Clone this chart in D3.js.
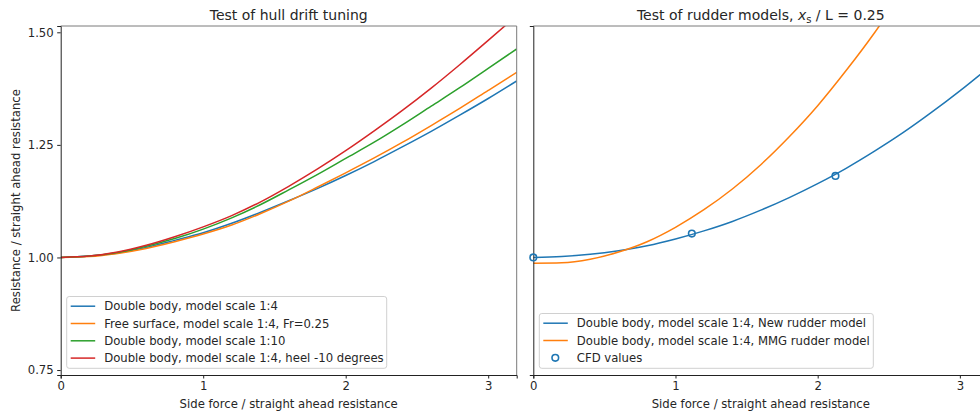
<!DOCTYPE html>
<html>
<head>
<meta charset="utf-8">
<script src="https://cdn.jsdelivr.net/npm/d3@7"></script>
<style>
  html, body { margin: 0; padding: 0; background: #fff; }
  svg { display: block; font-family: "DejaVu Sans", sans-serif; }
</style>
</head>
<body>
<svg id="chart" width="980" height="411"></svg>
<script>
// Side force / straight ahead resistance sample positions
const sideForce = [0, 0.2, 0.4, 0.6, 0.8, 1.0, 1.2, 1.4, 1.6, 1.8, 2.0, 2.2, 2.4, 2.6, 2.8, 3.0, 3.2];

// Hull drift tuning runs (resistance / straight ahead resistance)
const doubleBody14   = [1.000, 1.003, 1.010, 1.022, 1.038, 1.055, 1.076, 1.100, 1.126, 1.153, 1.182, 1.213, 1.246, 1.280, 1.316, 1.353, 1.392];
const freeSurface14  = [1.000, 1.002, 1.009, 1.020, 1.035, 1.052, 1.072, 1.097, 1.125, 1.156, 1.188, 1.221, 1.256, 1.293, 1.331, 1.371, 1.411];
const doubleBody110  = [1.000, 1.003, 1.011, 1.025, 1.042, 1.063, 1.088, 1.117, 1.150, 1.184, 1.220, 1.256, 1.295, 1.336, 1.377, 1.420, 1.463];
const doubleBodyHeel = [1.000, 1.003, 1.012, 1.027, 1.046, 1.068, 1.093, 1.123, 1.158, 1.196, 1.237, 1.281, 1.327, 1.376, 1.428, 1.482, 1.537];

// Rudder model runs
const newRudder = [1.000, 1.002, 1.007, 1.015, 1.026, 1.041, 1.059, 1.080, 1.105, 1.133, 1.164, 1.198, 1.236, 1.277, 1.322, 1.370, 1.421];
const mmgRudder = [0.987, 0.988, 0.996, 1.012, 1.035, 1.067, 1.106, 1.152, 1.206, 1.268, 1.337, 1.415, 1.499, 1.592, 1.690, 1.795, 1.905];

// CFD reference points
const cfdX = [0.0, 1.115, 2.125];
const cfdY = [1.000, 1.053, 1.181];

const xTicks = [0, 1, 2, 3];
const yTicks = [0.75, 1.00, 1.25, 1.50];

const leftSeries = [
  { label: "Double body, model scale 1:4", values: doubleBody14, color: "#1f77b4" },
  { label: "Free surface, model scale 1:4, Fr=0.25", values: freeSurface14, color: "#ff7f0e" },
  { label: "Double body, model scale 1:10", values: doubleBody110, color: "#2ca02c" },
  { label: "Double body, model scale 1:4, heel -10 degrees", values: doubleBodyHeel, color: "#d62728" }
];
const rightSeries = [
  { label: "Double body, model scale 1:4, New rudder model", values: newRudder, color: "#1f77b4" },
  { label: "Double body, model scale 1:4, MMG rudder model", values: mmgRudder, color: "#ff7f0e" }
];

const textColor = "#262626";
const fs = 11.67;     // tick, label and legend font size
const titleFs = 14;
const svg = d3.select("#chart");

const y = d3.scaleLinear().domain([0.739, 1.514]).range([375, 26]);
const xL = d3.scaleLinear().domain([0, 3.2]).range([60.7, 516.7]);
const xR = d3.scaleLinear().domain([0, 3.2]).range([533.3, 988.3]);

function panel(id, x, series, title, showY) {
  const g = svg.append("g");
  const [x0, x1] = x.range();
  const [y0, y1] = [y.range()[1], y.range()[0]];

  g.append("clipPath").attr("id", id)
    .append("rect").attr("x", x0).attr("y", y0).attr("width", x1 - x0).attr("height", y1 - y0);

  const line = d3.line()
    .x((d, i) => x(sideForce[i]))
    .y(d => y(d))
    .curve(d3.curveMonotoneX);

  const plot = g.append("g").attr("clip-path", `url(#${id})`);
  series.forEach(s => {
    plot.append("path")
      .attr("d", line(s.values))
      .attr("fill", "none")
      .attr("stroke", s.color)
      .attr("stroke-width", 1.5);
  });

  // spines
  g.append("line").attr("x1", x0).attr("x2", x1).attr("y1", y0).attr("y2", y0)
    .attr("stroke", "#7a7a7a").attr("stroke-width", 1);
  g.append("line").attr("x1", x1).attr("x2", x1).attr("y1", y0).attr("y2", y1)
    .attr("stroke", "#7a7a7a").attr("stroke-width", 1);

  // x axis
  const xa = g.append("g").attr("transform", `translate(0,${y1})`)
    .call(d3.axisBottom(x).tickValues(xTicks).tickFormat(d3.format("d"))
      .tickSizeOuter(0).tickSize(3.5).tickPadding(3.5));
  xa.select(".domain").attr("stroke", "#222");
  xa.selectAll(".tick line").attr("stroke", "#222");
  xa.selectAll(".tick text").attr("fill", textColor).attr("font-size", fs)
    .attr("font-family", "DejaVu Sans");

  // y axis
  const ya = g.append("g").attr("transform", `translate(${x0},0)`)
    .call(d3.axisLeft(y).tickValues(showY ? yTicks : []).tickFormat(d3.format(".2f"))
      .tickSizeOuter(0).tickSize(3.5).tickPadding(3.5));
  ya.select(".domain").attr("stroke", "#222");
  ya.selectAll(".tick line").attr("stroke", "#222");
  ya.selectAll(".tick text").attr("fill", textColor).attr("font-size", fs)
    .attr("font-family", "DejaVu Sans");

  // x label
  g.append("text").attr("x", (x0 + x1) / 2).attr("y", 407.5)
    .attr("text-anchor", "middle").attr("font-size", fs).attr("fill", textColor)
    .text("Side force / straight ahead resistance");

  // title
  const t = g.append("text").attr("x", (x0 + x1) / 2).attr("y", 20)
    .attr("text-anchor", "middle").attr("font-size", titleFs).attr("fill", textColor);
  title(t);
  return g;
}

const gl = panel("clipL", xL, leftSeries, t => t.text("Test of hull drift tuning"), true);
const gr = panel("clipR", xR, rightSeries, t => {
  t.append("tspan").text("Test of rudder models, ");
  t.append("tspan").attr("font-style", "italic").text("x");
  t.append("tspan").attr("font-size", 10).attr("dy", 3).text("s");
  t.append("tspan").attr("dy", -3).text(" / L = 0.25");
}, false);

// CFD markers
gr.append("g").selectAll("circle").data(cfdX).join("circle")
  .attr("cx", d => xR(d)).attr("cy", (d, i) => y(cfdY[i])).attr("r", 3.3)
  .attr("fill", "none").attr("stroke", "#1f77b4").attr("stroke-width", 1.6);

// y label
svg.append("text")
  .attr("transform", `translate(20,${(26 + 375) / 2}) rotate(-90)`)
  .attr("text-anchor", "middle").attr("font-size", fs).attr("fill", textColor)
  .text("Resistance / straight ahead resistance");

function legend(g, x0, y0, w, h, rows) {
  g.append("rect").attr("x", x0).attr("y", y0).attr("width", w).attr("height", h)
    .attr("rx", 2.5).attr("fill", "#fff").attr("fill-opacity", 0.8)
    .attr("stroke", "#d0d0d0").attr("stroke-width", 1);
  rows.forEach((r, i) => {
    const cy = y0 + 9.7 + i * 17.3;
    if (r.marker) {
      g.append("circle").attr("cx", x0 + 16).attr("cy", cy).attr("r", 3.3)
        .attr("fill", "none").attr("stroke", r.color).attr("stroke-width", 1.6);
    } else {
      g.append("line").attr("x1", x0 + 4).attr("x2", x0 + 28.5).attr("y1", cy).attr("y2", cy)
        .attr("stroke", r.color).attr("stroke-width", 1.5);
    }
    g.append("text").attr("x", x0 + 37.5).attr("y", cy).attr("dy", "0.35em")
      .attr("font-size", fs).attr("fill", textColor).text(r.label);
  });
}

legend(gl, 66.7, 296.5, 320, 71.8, leftSeries);
legend(gr, 539.3, 313.5, 334, 54.8, [
  ...rightSeries,
  { label: "CFD values", color: "#1f77b4", marker: true }
]);
</script>
</body>
</html>
